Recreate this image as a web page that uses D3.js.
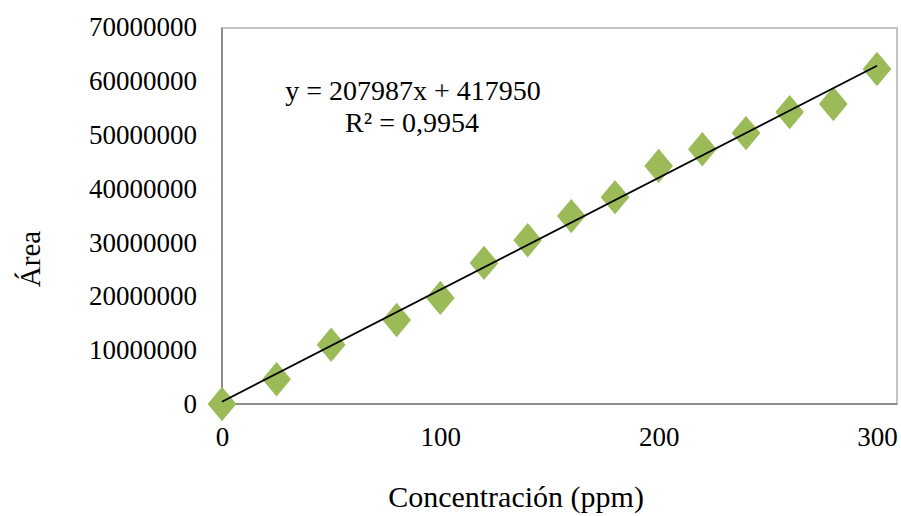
<!DOCTYPE html>
<html>
<head>
<meta charset="utf-8">
<script src="https://cdn.jsdelivr.net/npm/d3@7"></script>
<style>
  body { margin: 0; background: #fff; }
  svg text { font-family: "Liberation Serif", "Times New Roman", serif; fill: #000; }
</style>
</head>
<body>
<div id="chart"></div>
<script>
const concentrations = [0, 25, 50, 80, 100, 120, 140, 160, 180, 200, 220, 240, 260, 280, 300];
const areas = [0, 4600000, 11000000, 15600000, 19700000, 26200000, 30400000, 34900000,
               38400000, 44200000, 47300000, 50300000, 54200000, 55700000, 62200000];
const xTicks = [0, 100, 200, 300];
const yTicks = [0, 10000000, 20000000, 30000000, 40000000, 50000000, 60000000, 70000000];
const slope = 207987;
const intercept = 417950;
const equationLabel = "y = 207987x + 417950";
const r2Label = "R² = 0,9954";

const width = 901, height = 516;
const svg = d3.select("#chart").append("svg")
    .attr("width", width)
    .attr("height", height);

// plot frame goes a bit past x=300, like the original
const frame = { left: 222, top: 28, right: 897, bottom: 404 };

const x = d3.scaleLinear().domain([0, 300]).range([222, 877]);
const y = d3.scaleLinear().domain([0, 70000000]).range([404, 27]);

svg.append("rect")
    .attr("x", frame.left).attr("y", frame.top)
    .attr("width", frame.right - frame.left)
    .attr("height", frame.bottom - frame.top)
    .attr("fill", "none")
    .attr("stroke", "#c4c4c4")
    .attr("stroke-width", 2);

// axes lines (darker)
svg.append("line")
    .attr("x1", frame.left).attr("x2", frame.left)
    .attr("y1", frame.top).attr("y2", frame.bottom)
    .attr("stroke", "#8c8c8c").attr("stroke-width", 2);
svg.append("line")
    .attr("x1", frame.left).attr("x2", frame.right)
    .attr("y1", frame.bottom).attr("y2", frame.bottom)
    .attr("stroke", "#8c8c8c").attr("stroke-width", 2);

const yAxis = svg.append("g")
    .attr("transform", `translate(${frame.left},0)`)
    .call(d3.axisLeft(y).tickValues(yTicks).tickSize(0).tickPadding(25).tickFormat(d3.format("d")));
yAxis.select(".domain").remove();
yAxis.selectAll("text").attr("font-size", 27).attr("font-family", "Liberation Serif")
    .attr("fill", "#000");

const xAxis = svg.append("g")
    .attr("transform", `translate(0,${frame.bottom})`)
    .call(d3.axisBottom(x).tickValues(xTicks).tickSize(0).tickPadding(23).tickFormat(d3.format("d")));
xAxis.select(".domain").remove();
xAxis.selectAll("text").attr("font-size", 27).attr("font-family", "Liberation Serif")
    .attr("fill", "#000");

// data points
svg.append("g").selectAll("path")
    .data(concentrations.map((c, i) => ({ c, a: areas[i] })))
    .join("path")
    .attr("d", d3.symbol().type(d3.symbolDiamond).size(340))
    .attr("transform", d => `translate(${x(d.c)},${y(d.a)}) scale(1.45,1)`)
    .attr("fill", "#9bbb59");

// linear trendline
svg.append("line")
    .attr("x1", x(0)).attr("y1", y(intercept))
    .attr("x2", x(300)).attr("y2", y(slope * 300 + intercept))
    .attr("stroke", "#000").attr("stroke-width", 1.8);

svg.append("text")
    .attr("x", 413).attr("y", 100)
    .attr("text-anchor", "middle")
    .attr("font-size", 28)
    .text(equationLabel);
svg.append("text")
    .attr("x", 412).attr("y", 132)
    .attr("text-anchor", "middle")
    .attr("font-size", 28)
    .text(r2Label);

svg.append("text")
    .attr("transform", "translate(40,259) rotate(-90)")
    .attr("text-anchor", "middle")
    .attr("font-size", 29)
    .text("Área");

svg.append("text")
    .attr("x", 516).attr("y", 507)
    .attr("text-anchor", "middle")
    .attr("font-size", 30)
    .text("Concentración (ppm)");
</script>
</body>
</html>
